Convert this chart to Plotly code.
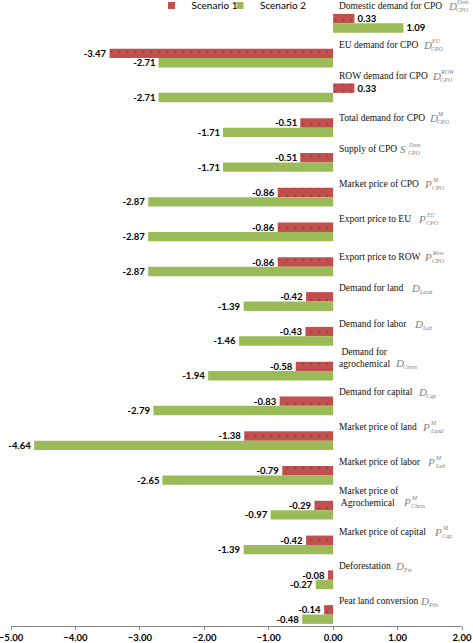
import plotly.graph_objects as go

# ---- data ----
categories = [
    "Domestic demand for CPO", "EU demand for CPO", "ROW demand for CPO",
    "Total demand for CPO", "Supply of CPO", "Market price of CPO",
    "Export price to EU", "Export price to ROW", "Demand for land",
    "Demand for labor", " Demand for<br>agrochemical", "Demand for capital",
    "Market price of land", "Market price of labor", "Market price of<br> Agrochemical",
    "Market price of capital", "Deforestation", "Peat land conversion",
]
sym_base = ["D", "D", "D", "D", "S", "P", "P", "P", "D", "D", "D", "D", "P", "P", "P", "P", "D", "D"]
sym_sup = ["Dom", "EU", "ROW", "M", "Dom", "M", "EU", "Row", "", "", "", "", "M", "M", "M", "M", "", ""]
sym_sub = ["CPO"] * 8 + ["Land", "Lab", "Chem", "Cap", "Land", "Lab", "Chem", "Cap", "Fst", "Ptls"]
scenario1 = [0.33, -3.47, 0.33, -0.51, -0.51, -0.86, -0.86, -0.86, -0.42, -0.43,
             -0.58, -0.83, -1.38, -0.79, -0.29, -0.42, -0.08, -0.14]
scenario2 = [1.09, -2.71, -2.71, -1.71, -1.71, -2.87, -2.87, -2.87, -1.39, -1.46,
             -1.94, -2.79, -4.64, -2.65, -0.97, -1.39, -0.27, -0.48]
series_names = ["Scenario 1", "Scenario 2"]
series_colors = ["#C0504D", "#9BBB59"]
tick_vals = [-5, -4, -3, -2, -1, 0, 1, 2]

# ---- layout helpers (pixel positions of label pieces) ----
W, H = 473, 643
M_L, M_R, M_T, M_B = 11, 11, 0, 17
PLOT_H = H - M_T - M_B
label_py = [6, 45, 76, 118, 149, 184, 219, 257, 288, 324, 357.5, 392, 427, 462, 497, 532, 566, 601]
sym_py = [6, 45, 76, 118, 149, 184, 219, 257, 288, 324, 363, 392, 427, 462, 502, 532, 566, 601]
sym_px = [447, 422, 431, 428, 399, 423, 417, 423, 410, 413, 394, 417, 421, 426, 402, 433, 394, 419]
legend_x = [0.3115, 0.4634]
ZERO_PX = M_L + 5 * (W - M_L - M_R) / 7.0

n = len(categories)
ypos = list(range(n))
val_font = dict(family="Lato", size=9.5, color="#000000", weight="bold")

fig = go.Figure()
fig.add_trace(go.Bar(
    y=ypos, x=scenario1, orientation="h", name=series_names[0], showlegend=False,
    offset=-0.1, width=0.27,
    marker=dict(color=series_colors[0], line=dict(width=0),
                pattern=dict(shape=".", fgcolor="#6e2a27", size=8, solidity=0.05, fillmode="overlay")),
    text=[f"{v:.2f}" for v in scenario1], textposition="outside", constraintext="none",
    cliponaxis=False, textfont=val_font,
))
fig.add_trace(go.Bar(
    y=ypos, x=scenario2, orientation="h", name=series_names[1], showlegend=False,
    offset=0.17, width=0.27,
    marker=dict(color=series_colors[1], line=dict(width=0)),
    text=[f"{v:.2f}" for v in scenario2], textposition="outside", constraintext="none",
    cliponaxis=False, textfont=val_font,
))
# legend entries (small square keys), one legend each so spacing can follow the reference
for k, (name, col) in enumerate(zip(series_names, series_colors)):
    fig.add_trace(go.Scatter(
        x=[None], y=[None], mode="markers", name=name,
        legend="legend" if k == 0 else "legend2",
        marker=dict(symbol="square", size=7, color=col),
    ))

annotations = []
gray = "#7f7f7f"
for i in range(n):
    annotations.append(dict(
        x=0, xref="x", xshift=5, xanchor="left",
        y=1 - label_py[i] / PLOT_H, yref="paper", yanchor="middle",
        text=categories[i], showarrow=False, align="left", borderpad=0,
        font=dict(family="Liberation Serif", size=9.5, color="#111111"),
    ))
    dx = sym_px[i] - ZERO_PX
    ys = 1 - sym_py[i] / PLOT_H
    annotations.append(dict(
        x=0, xref="x", xshift=dx, xanchor="left",
        y=ys, yref="paper", yanchor="middle", borderpad=0,
        text=f"<i>{sym_base[i]}</i>", showarrow=False,
        font=dict(family="Liberation Serif", size=11, color=gray),
    ))
    if sym_sup[i]:
        annotations.append(dict(
            x=0, xref="x", xshift=dx + 8.5, xanchor="left",
            y=ys, yref="paper", yanchor="middle", yshift=4, borderpad=0,
            text=f"<i>{sym_sup[i]}</i>", showarrow=False,
            font=dict(family="Liberation Serif", size=6, color=gray),
        ))
    annotations.append(dict(
        x=0, xref="x", xshift=dx + 8.5, xanchor="left",
        y=ys, yref="paper", yanchor="middle", yshift=-4, borderpad=0,
        text=f"<i>{sym_sub[i]}</i>", showarrow=False,
        font=dict(family="Liberation Serif", size=6, color=gray),
    ))

leg_common = dict(orientation="h", xanchor="left", y=1.0144, yanchor="top",
                  font=dict(family="Lato", size=10, color="#000000"),
                  bgcolor="rgba(0,0,0,0)", itemwidth=30)

fig.update_layout(
    width=W, height=H,
    margin=dict(l=M_L, r=M_R, t=M_T, b=M_B, pad=0, autoexpand=False),
    paper_bgcolor="white", plot_bgcolor="white",
    barmode="overlay",
    showlegend=True,
    legend=dict(x=legend_x[0], **leg_common),
    legend2=dict(x=legend_x[1], **leg_common),
    xaxis=dict(range=[-5, 2], tickvals=tick_vals, tickformat=".2f",
               showgrid=False, zeroline=False, showline=True, linecolor="#868686",
               ticks="outside", ticklen=3, tickcolor="#868686", automargin=False,
               ticklabeloverflow="allow",
               tickfont=dict(family="Lato", size=9.5, color="#000000", weight="bold"),
               fixedrange=True),
    yaxis=dict(range=[n - 0.5, -0.5], showticklabels=False, showgrid=False,
               zeroline=False, showline=False, ticks="", fixedrange=True, automargin=False),
    annotations=annotations,
)

fig.write_html("out.html", config={"displayModeBar": False},
               post_script="document.body.style.margin='0px';")
